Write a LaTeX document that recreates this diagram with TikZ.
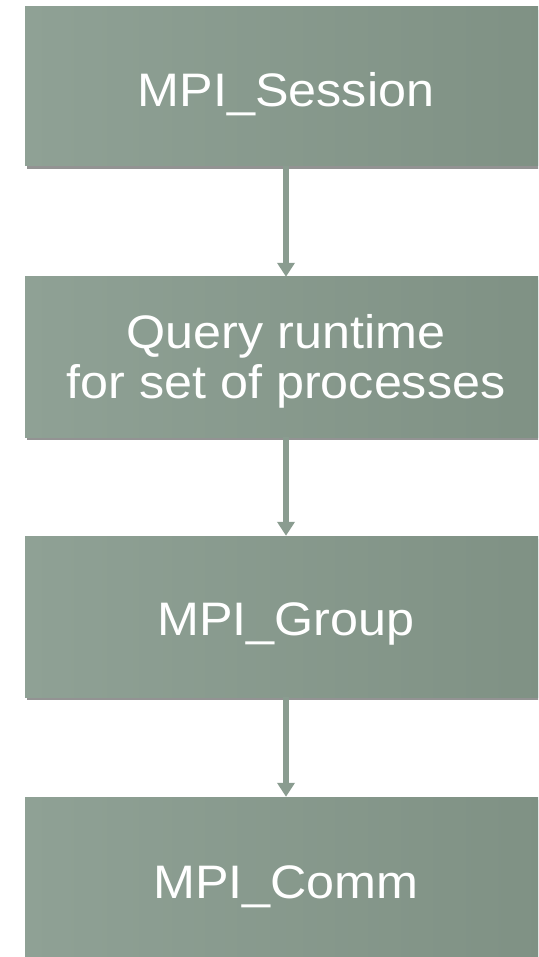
\documentclass[tikz,border=0pt]{standalone}
\usepackage{fontspec}
\setmainfont{Liberation Sans}[FakeStretch=1.07]
\usetikzlibrary{arrows.meta,shadows}
\definecolor{boxL}{HTML}{8FA195}
\definecolor{boxM}{HTML}{7C8E81}
\definecolor{boxR}{HTML}{7F9184}
\definecolor{arrowc}{HTML}{8A9C90}
\begin{document}
\begin{tikzpicture}[x=1pt,y=-1pt,
  stepbox/.style={rectangle, inner sep=0pt, minimum width=522pt, text=white,
    align=center, font=\fontsize{47}{50}\selectfont,
    text depth=0pt, text height=37pt,
    left color=boxL, middle color=boxM, right color=boxR,
    drop shadow={shadow xshift=2pt, shadow yshift=-3pt, opacity=0.6, fill=black!70}},
  conn/.style={draw=arrowc, line width=5.5pt, -{Triangle[width=17pt,length=14pt]}}]
\useasboundingbox (0,0) rectangle (538,957);
\clip (0,0) rectangle (538,957);
\fill[white] (0,0) rectangle (538,957);
\node[stepbox, minimum height=159pt, text height=41pt] (s) at (286,86.5) {MPI\_Session};
\node[stepbox, minimum height=160pt, text height=82pt] (q) at (286,357) {Query runtime\\for set of processes};
\node[stepbox, minimum height=161pt] (g) at (286,616.5) {MPI\_Group};
\node[stepbox, minimum height=166pt] (c) at (286,880) {MPI\_Comm};
\draw[conn] (s.south) -- (q.north);
\draw[conn] (q.south) -- (g.north);
\draw[conn] (g.south) -- (c.north);
\end{tikzpicture}
\end{document}
